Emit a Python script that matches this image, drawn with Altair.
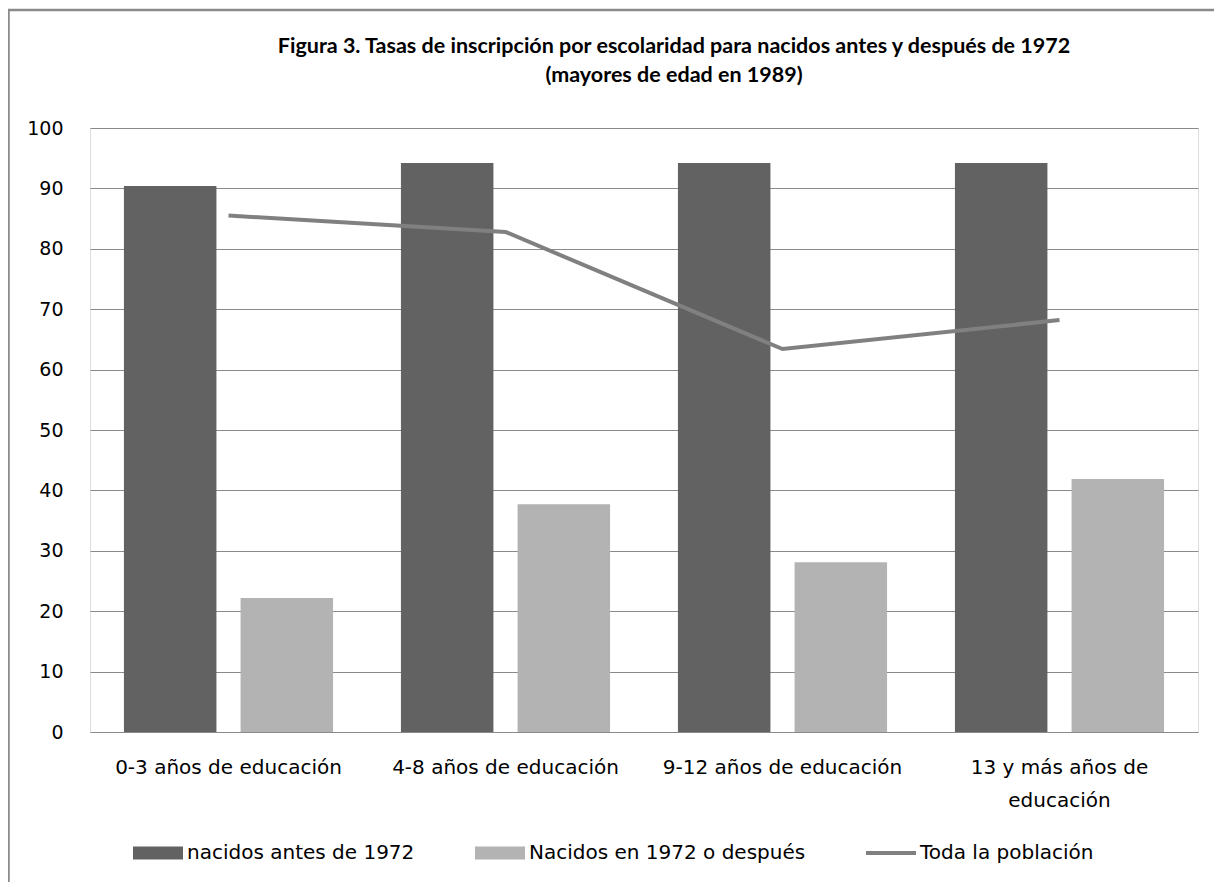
import altair as alt
import pandas as pd

categorias = ["0-3 años de educación", "4-8 años de educación",
              "9-12 años de educación", "13 y más años de educación"]
antes = [90.4, 94.2, 94.2, 94.2]
despues = [22.2, 37.7, 28.1, 41.9]
total = [85.5, 82.8, 63.4, 68.2]
series = ["nacidos antes de 1972", "Nacidos en 1972 o después", "Toda la población"]
colores = ["#626262", "#b3b3b3", "#808080"]
titulo = ["Figura 3. Tasas de inscripción por escolaridad para nacidos antes y después de 1972",
          "(mayores de edad en 1989)"]

bars_df = pd.DataFrame({
    "cat": categorias * 2,
    "serie": [series[0]] * 4 + [series[1]] * 4,
    "valor": antes + despues,
})
line_df = pd.DataFrame({"cat": categorias, "serie": [series[2]] * 4, "valor": total})
frame_df = pd.DataFrame({"k": [0]})

BAR_SYM = "M-1,-0.26H1V0.26H-1Z"
LINE_SYM = "M-1,-0.08H1V0.08H-1Z"
LABEL_FONT = "DejaVu Sans"

color_scale = alt.Scale(domain=series, range=colores)
shape_scale = alt.Scale(domain=series, range=[BAR_SYM, BAR_SYM, LINE_SYM])


def make_legend():
    return alt.Legend(
        orient="none", legendX=43, legendY=700, direction="horizontal", title=None,
        labelFont=LABEL_FONT, labelFontSize=20, labelColor="#000000", labelLimit=500,
        symbolSize=2500, symbolStrokeWidth=0, symbolOpacity=1,
        columnPadding=60, labelOffset=4,
    )


x_enc = alt.X(
    "cat:N", sort=categorias, title=None,
    scale=alt.Scale(paddingInner=0.245, paddingOuter=0.1225),
    axis=alt.Axis(
        labelAngle=0, ticks=False, domain=False, grid=False, labelLimit=500,
        labelFont=LABEL_FONT, labelFontSize=20, labelColor="#000000",
        labelPadding=25, labelLineHeight=33, labelBaseline="top",
        labelExpr="datum.value == '13 y más años de educación' ? ['13 y más años de', 'educación'] : datum.value",
    ),
)
y_enc = alt.Y(
    "valor:Q", title=None, scale=alt.Scale(domain=[0, 100]),
    axis=alt.Axis(
        values=list(range(0, 101, 10)), domain=False, ticks=False,
        gridColor="#8a8a8a", gridWidth=1, labelFont="DejaVu Sans", labelFontSize=19,
        labelColor="#000000", labelPadding=27,
    ),
)

bars = alt.Chart(bars_df).mark_bar().encode(
    x=x_enc,
    xOffset=alt.XOffset("serie:N", sort=series[:2],
                        scale=alt.Scale(domain=series[:2], paddingInner=0.207, paddingOuter=0)),
    y=y_enc,
    color=alt.Color("serie:N", scale=color_scale, legend=make_legend()),
)

line = alt.Chart(line_df).mark_line(strokeWidth=4).encode(
    x=alt.X("cat:N", sort=categorias),
    y=alt.Y("valor:Q"),
    color=alt.Color("serie:N", scale=color_scale, legend=make_legend()),
)

legend_pts = alt.Chart(line_df).mark_point(filled=True, size=0).encode(
    x=alt.X("cat:N", sort=categorias),
    y=alt.Y("valor:Q"),
    color=alt.Color("serie:N", scale=color_scale, legend=make_legend()),
    shape=alt.Shape("serie:N", scale=shape_scale, legend=make_legend()),
)

frame = alt.Chart(frame_df).mark_rect(fill="transparent", stroke="#8a8a8a", strokeWidth=2.5).encode(
    x=alt.value(-81.5), x2=alt.value(1400), y=alt.value(-118), y2=alt.value(1000),
)

chart = alt.layer(bars, line, legend_pts, frame).properties(
    width=1108, height=604,
    autosize="none",
    padding={"left": 82, "top": 120, "right": 16, "bottom": 150},
    title=alt.TitleParams(
        text=titulo, font="Lato", fontWeight="bold", fontSize=21.5,
        lineHeight=29, offset=0, dy=78, dx=30, anchor="middle", color="#000000",
    ),
).configure_view(strokeWidth=0).configure(background="white")

chart.save("out.html", embed_options={"renderer": "svg", "actions": False})
